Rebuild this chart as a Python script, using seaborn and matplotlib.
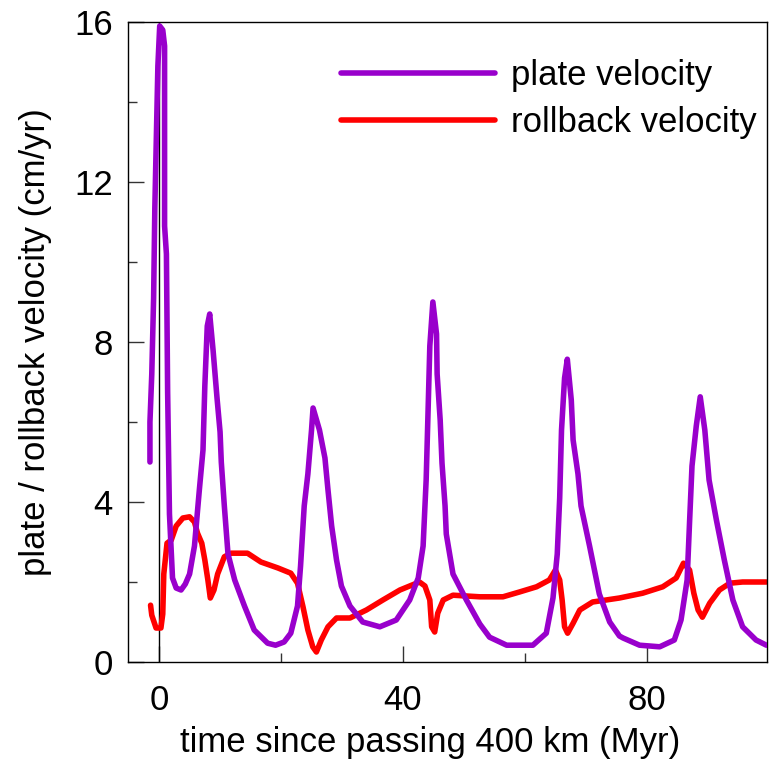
import matplotlib
matplotlib.use("Agg")
import matplotlib.pyplot as plt
import seaborn as sns
from matplotlib.ticker import MultipleLocator

# ---- data ----
time_plate = [-1.5, -1.5, -1.2, -0.9, -0.7, -0.2, 0.1, 0.6, 0.9, 0.9, 1.2, 1.4, 1.7, 2.2, 2.8, 3.6,
              4.3, 5.0, 5.8, 6.6, 7.2, 7.5, 7.9, 8.3, 8.85, 9.5, 10.0, 10.2, 10.7, 11.3, 12.4, 14.0,
              15.6, 17.8, 19.1, 20.5, 21.6, 22.7, 23.2, 23.8, 24.4, 25.0, 25.25, 26.3, 27.2, 27.7,
              28.3, 29.1, 29.9, 31.3, 33.4, 36.2, 38.9, 41.1, 42.5, 43.3, 43.8, 44.1, 44.4, 44.9,
              45.5, 45.6, 46.1, 46.4, 46.9, 47.1, 48.2, 50.4, 52.6, 54.2, 57.0, 61.3, 63.5, 64.6,
              65.3, 65.7, 66.0, 66.5, 66.95, 67.6, 67.9, 68.7, 69.2, 70.6, 72.2, 73.9, 75.5, 76.1,
              78.8, 82.1, 84.5, 85.6, 86.6, 87.0, 87.4, 88.1, 88.75, 89.5, 90.2, 91.4, 92.7, 94.1,
              95.7, 97.9, 99.6]
plate_vel = [5.0, 6.0, 7.2, 9.1, 11.35, 14.9, 15.9, 15.8, 15.4, 10.9, 10.2, 6.75, 3.7, 2.1, 1.85, 1.8,
             1.95, 2.2, 2.9, 4.3, 5.3, 6.9, 8.4, 8.7, 7.8, 6.6, 5.75, 5.0, 3.9, 2.7, 2.05, 1.4,
             0.8, 0.47, 0.42, 0.5, 0.72, 1.4, 2.4, 3.9, 4.7, 5.8, 6.35, 5.8, 5.1, 4.3,
             3.4, 2.55, 1.9, 1.4, 1.0, 0.88, 1.05, 1.55, 2.1, 2.9, 4.55, 6.2, 7.9, 9.0,
             8.2, 7.2, 6.05, 4.97, 3.9, 3.2, 2.2, 1.55, 0.95, 0.62, 0.42, 0.42, 0.72, 1.6,
             2.7, 4.1, 5.8, 7.1, 7.57, 6.55, 5.55, 4.7, 3.9, 2.9, 1.7, 1.0, 0.65, 0.6,
             0.42, 0.38, 0.55, 1.05, 2.05, 3.5, 4.9, 5.9, 6.63, 5.8, 4.55, 3.55, 2.55, 1.55,
             0.88, 0.55, 0.42]

time_roll = [-1.4, -1.2, -0.5, 0.3, 0.6, 0.77, 1.3, 2.0, 2.8, 3.9, 5.0, 5.8, 6.3, 7.0, 7.5, 8.0,
             8.4, 9.0, 9.6, 10.7, 11.8, 14.5, 16.7, 19.5, 21.6, 22.7, 23.6, 24.4, 25.2, 25.8,
             26.6, 27.7, 29.1, 31.3, 34.0, 36.7, 39.5, 42.7, 43.6, 44.4, 44.7, 45.2, 45.7, 46.6,
             48.2, 52.6, 56.4, 59.1, 61.9, 64.0, 65.0, 65.7, 66.1, 66.5, 67.0, 67.9, 69.0, 71.1,
             75.5, 79.3, 82.6, 84.8, 86.0, 87.0, 87.7, 88.4, 89.1, 90.3, 91.9, 93.6, 95.7, 99.6]
roll_vel = [1.42, 1.17, 0.85, 0.85, 1.2, 2.2, 2.97, 3.05, 3.4, 3.6, 3.63, 3.5, 3.22, 2.97, 2.55, 2.05,
            1.6, 1.8, 2.2, 2.63, 2.72, 2.72, 2.5, 2.35, 2.22, 1.97, 1.38, 0.8, 0.38, 0.25,
            0.55, 0.88, 1.1, 1.1, 1.3, 1.55, 1.8, 2.0, 1.9, 1.55, 0.88, 0.75, 1.22, 1.55,
            1.67, 1.63, 1.63, 1.75, 1.88, 2.05, 2.3, 2.05, 1.55, 0.88, 0.72, 0.97, 1.3, 1.5,
            1.6, 1.72, 1.88, 2.1, 2.47, 2.3, 1.72, 1.3, 1.12, 1.47, 1.8, 1.97, 2.0, 2.0]

series_labels = ["plate velocity", "rollback velocity"]
x_label = "time since passing 400 km (Myr)"
y_label = "plate / rollback velocity (cm/yr)"

# ---- style ----
sns.set_style("ticks")
plt.rcParams['font.family'] = ['Liberation Sans', 'DejaVu Sans']
plt.rcParams['text.color'] = 'black'
plt.rcParams['axes.labelcolor'] = 'black'
plt.rcParams['xtick.color'] = 'black'
plt.rcParams['ytick.color'] = 'black'

fig = plt.figure(figsize=(7.7, 7.65), dpi=100)
ax = fig.add_axes([128 / 770, 1 - 662 / 765, (767 - 128) / 770, (662 - 22) / 765])

ax.axvline(0, color='black', lw=1.0, zorder=1)
sns.lineplot(x=time_plate, y=plate_vel, sort=False, estimator=None, color='#9900CC',
             lw=4, label=series_labels[0], ax=ax, zorder=3)
sns.lineplot(x=time_roll, y=roll_vel, sort=False, estimator=None, color='#FF0000',
             lw=4, label=series_labels[1], ax=ax, zorder=2)

ax.set_xlim(-5.1, 99.7)
ax.set_ylim(0, 16)
ax.xaxis.set_major_locator(MultipleLocator(40))
ax.xaxis.set_minor_locator(MultipleLocator(20))
ax.yaxis.set_major_locator(MultipleLocator(4))
ax.yaxis.set_minor_locator(MultipleLocator(2))

ax.tick_params(which='both', direction='in', color='#333333', labelcolor='black', width=1.0,
               labelsize=25, top=False, right=False)
ax.tick_params(which='major', length=11.5)
ax.tick_params(which='minor', length=6.5)
ax.tick_params(axis='y', which='major', pad=11)
ax.tick_params(axis='x', which='major', pad=16)

for s in ax.spines.values():
    s.set_visible(True)
    s.set_linewidth(1.0)
    s.set_color('black')

ax.set_xlabel(x_label, fontsize=25, color='black')
ax.xaxis.set_label_coords(0.5 - 17 / 639, -0.1)
ax.set_ylabel(y_label, fontsize=25, labelpad=16, color='black')

leg = ax.legend(loc='upper right', bbox_to_anchor=(1.0, 1 - 27 / 640), frameon=False,
                fontsize=25, handlelength=4.45, handletextpad=0.45, labelspacing=0.4,
                borderaxespad=0.1, borderpad=0.2)
for line in leg.get_lines():
    line.set_linewidth(4)
for t in leg.get_texts():
    t.set_color('black')

fig.savefig("out.png", dpi=100)
